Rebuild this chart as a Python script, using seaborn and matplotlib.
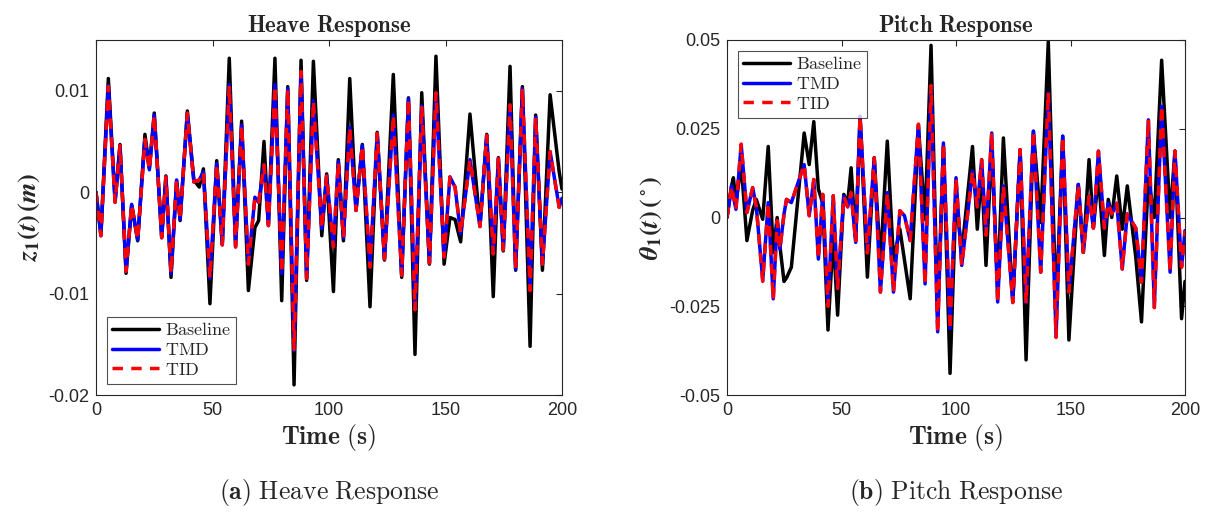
import matplotlib
matplotlib.use("Agg")
import matplotlib.pyplot as plt
import seaborn as sns
import pandas as pd

# ---------------- data ----------------
heave_time = [0, 2.1, 5.3, 8.2, 10.3, 12.9, 15.3, 17.9, 21.0, 22.9, 25.0, 28.2, 30.0, 32.2, 34.6,
              36.1, 39.2, 42.0, 44.3, 46.1, 48.9, 51.8, 54.2, 57.2, 59.9, 62.5, 65.4, 68.2, 69.8,
              72.1, 74.0, 76.8, 79.7, 82.3, 85.0, 88.0, 90.4, 93.3, 96.9, 99.0, 101.9, 104.0,
              106.2, 108.9, 111.6, 114.3, 117.6, 120.7, 123.8, 127.6, 131.2, 134.1, 136.9, 139.8,
              143.1, 145.9, 149.4, 151.9, 154.1, 156.5, 160.5, 164.8, 167.7, 170.5, 172.7, 174.8,
              177.7, 180.1, 183.0, 186.3, 188.7, 191.6, 194.9, 198.8, 200.0]
heave_baseline = [0, -0.0041, 0.0112, -0.0009, 0.0047, -0.0080, -0.0013, -0.0048, 0.0057, 0.0024,
                  0.0078, -0.0044, 0.0016, -0.0084, 0.0011, -0.0028, 0.0080, 0.0012, 0.0005, 0.0023,
                  -0.0110, 0.0031, -0.0051, 0.0132, -0.0051, 0.0070, -0.0097, -0.0035, -0.0028,
                  0.0050, -0.0031, 0.0132, -0.0107, 0.0104, -0.0190, 0.0130, -0.0087, 0.0129,
                  -0.0043, 0.0018, -0.0098, 0.0032, -0.0048, 0.0112, -0.0018, 0.0047, -0.0113,
                  0.0059, -0.0067, 0.0116, -0.0084, 0.0093, -0.0160, 0.0098, -0.0071, 0.0134,
                  -0.0071, -0.0025, -0.0027, -0.0049, 0.0077, -0.0033, 0.0057, -0.0103, 0.0034,
                  -0.0058, 0.0124, -0.0077, 0.0104, -0.0152, 0.0076, -0.0077, 0.0096, 0.0020, 0.0003]
heave_tmd = [0, -0.0043, 0.0105, -0.0010, 0.0046, -0.0078, -0.0012, -0.0047, 0.0052, 0.0022,
             0.0076, -0.0045, 0.0015, -0.0080, 0.0012, -0.0027, 0.0078, 0.0010, 0.0012, 0.0020,
             -0.0085, 0.0028, -0.0052, 0.0106, -0.0054, 0.0066, -0.0071, -0.0005, -0.0010,
             0.0027, -0.0033, 0.0106, -0.0080, 0.0102, -0.0156, 0.0119, -0.0085, 0.0090,
             -0.0036, 0.0016, -0.0054, 0.0030, -0.0045, 0.0064, -0.0018, 0.0046, -0.0074,
             0.0058, -0.0066, 0.0076, -0.0082, 0.0092, -0.0116, 0.0085, -0.0070, 0.0098,
             -0.0064, 0.0015, 0.0005, -0.0041, 0.0032, -0.0034, 0.0056, -0.0061, 0.0033,
             -0.0057, 0.0086, -0.0076, 0.0102, -0.0097, 0.0074, -0.0071, 0.0040, -0.0015, -0.0006]
heave_tid = [0, -0.0043, 0.0104, -0.0010, 0.0046, -0.0078, -0.0012, -0.0047, 0.0052, 0.0022,
             0.0076, -0.0045, 0.0015, -0.0080, 0.0012, -0.0027, 0.0078, 0.0010, 0.0012, 0.0020,
             -0.0085, 0.0028, -0.0052, 0.0105, -0.0054, 0.0066, -0.0071, -0.0005, -0.0010,
             0.0027, -0.0033, 0.0105, -0.0080, 0.0102, -0.0155, 0.0119, -0.0085, 0.0090,
             -0.0036, 0.0016, -0.0054, 0.0030, -0.0045, 0.0064, -0.0018, 0.0046, -0.0074,
             0.0058, -0.0066, 0.0076, -0.0082, 0.0092, -0.0116, 0.0085, -0.0070, 0.0098,
             -0.0064, 0.0015, 0.0005, -0.0041, 0.0032, -0.0034, 0.0056, -0.0061, 0.0033,
             -0.0057, 0.0086, -0.0076, 0.0102, -0.0097, 0.0074, -0.0071, 0.0040, -0.0015, -0.0006]

pitch_time = [0, 2.0, 2.8, 3.9, 6.2, 8.7, 11.2, 12.8, 15.6, 18.0, 20.2, 21.9, 23.1, 24.9, 26.0,
              28.1, 33.7, 35.9, 37.9, 39.9, 41.8, 44.1, 46.4, 48.3, 51.0, 52.7, 54.2, 56.2, 58.1,
              61.3, 64.3, 67.0, 70.0, 72.7, 75.5, 77.5, 80.0, 83.6, 86.5, 89.1, 92.0, 94.5, 97.4,
              100.0, 102.5, 107.2, 109.3, 111.2, 113.1, 115.6, 118.2, 120.7, 124.8, 128.0, 130.6,
              133.8, 137.0, 140.3, 143.7, 146.6, 149.3, 153.4, 155.6, 158.1, 160.0, 162.2, 164.8,
              166.5, 168.0, 170.2, 172.6, 174.8, 178.5, 181.0, 184.0, 186.6, 189.8, 193.5, 195.6,
              198.5, 200.0]
pitch_baseline = [0, 0.0090, 0.0112, 0.0040, 0.0150, -0.0065, 0.0020, 0.0051, -0.0005, 0.0200,
                  -0.0098, 0.0000, -0.0080, -0.0180, -0.0170, -0.0140, 0.0238, 0.0149, 0.0270,
                  0.0080, 0.0040, -0.0317, -0.0050, -0.0275, 0.0065, 0.0042, 0.0140, -0.0065,
                  0.0285, -0.0168, 0.0168, -0.0126, 0.0215, -0.0120, -0.0033, -0.0120, -0.0229,
                  0.0255, -0.0005, 0.0485, -0.0280, 0.0200, -0.0439, 0.0060, -0.0100, 0.0200,
                  -0.0033, 0.0130, -0.0135, 0.0200, -0.0200, 0.0224, -0.0238, 0.0191, -0.0401,
                  0.0243, -0.0014, 0.0495, -0.0255, 0.0229, -0.0345, 0.0093, -0.0098, 0.0163,
                  -0.0028, 0.0117, -0.0107, 0.0051, 0.0000, 0.0117, -0.0033, 0.0089, -0.0112,
                  -0.0294, 0.0110, 0.0000, 0.0443, 0.0000, 0.0187, -0.0285, -0.0180]
pitch_tmd = [0, 0.0089, 0.0060, 0.0023, 0.0205, 0.0014, 0.0084, 0.0030, -0.0177, 0.0042,
             -0.0229, -0.0009, -0.0089, 0.0010, 0.0051, 0.0042, 0.0149, 0.0005, 0.0107, -0.0117,
             0.0065, -0.0247, 0.0061, -0.0200, 0.0060, 0.0030, 0.0070, -0.0070, 0.0285, -0.0100,
             0.0168, -0.0210, 0.0070, -0.0210, 0.0019, 0.0005, -0.0065, 0.0261, -0.0187, 0.0369,
             -0.0322, 0.0210, -0.0313, 0.0112, -0.0135, 0.0130, 0.0030, 0.0163, -0.0050, 0.0238,
             -0.0238, 0.0089, -0.0238, 0.0191, -0.0240, 0.0243, -0.0154, 0.0350, -0.0336, 0.0229,
             -0.0210, 0.0093, -0.0098, 0.0060, -0.0030, 0.0187, -0.0030, 0.0040, 0.0010, 0.0040,
             -0.0145, 0.0010, -0.0030, -0.0182, 0.0275, -0.0252, 0.0313, -0.0154, 0.0187, -0.0140,
             -0.0037]
pitch_tid = [0, 0.0089, 0.0060, 0.0023, 0.0207, 0.0014, 0.0084, 0.0030, -0.0180, 0.0042,
             -0.0232, -0.0009, -0.0089, 0.0010, 0.0051, 0.0042, 0.0149, 0.0005, 0.0107, -0.0117,
             0.0065, -0.0250, 0.0061, -0.0200, 0.0060, 0.0030, 0.0070, -0.0070, 0.0287, -0.0100,
             0.0168, -0.0210, 0.0070, -0.0210, 0.0019, 0.0005, -0.0065, 0.0263, -0.0190, 0.0372,
             -0.0325, 0.0210, -0.0316, 0.0112, -0.0135, 0.0130, 0.0030, 0.0163, -0.0050, 0.0240,
             -0.0240, 0.0089, -0.0240, 0.0191, -0.0242, 0.0245, -0.0154, 0.0353, -0.0338, 0.0229,
             -0.0210, 0.0093, -0.0098, 0.0060, -0.0030, 0.0187, -0.0030, 0.0040, 0.0010, 0.0040,
             -0.0145, 0.0010, -0.0030, -0.0182, 0.0277, -0.0254, 0.0315, -0.0154, 0.0187, -0.0140,
             -0.0037]

series_names = ["Baseline", "TMD", "TID"]
heave_xticks = [0, 50, 100, 150, 200]
heave_yticks = [-0.02, -0.01, 0, 0.01]
heave_yticklabels = ["-0.02", "-0.01", "0", "0.01"]
pitch_yticks = [-0.05, -0.025, 0, 0.025, 0.05]
pitch_yticklabels = ["-0.05", "-0.025", "0", "0.025", "0.05"]

# ---------------- style ----------------
sns.set_style("white")
plt.rcParams["font.family"] = ["Liberation Sans", "DejaVu Sans"]
plt.rcParams["mathtext.fontset"] = "cm"
plt.rcParams["axes.unicode_minus"] = False

fig = plt.figure(figsize=(12.05, 5.12), dpi=100)
ax1 = fig.add_axes([96 / 1205, 1 - 395 / 512, 466 / 1205, 355 / 512])
ax2 = fig.add_axes([727 / 1205, 1 - 395 / 512, 458 / 1205, 355 / 512])

colors = {"Baseline": "black", "TMD": "#0000ff", "TID": "#ff0000"}
lw = 2.5


def draw(ax, t, base, tmd, tid):
    df = pd.DataFrame({"t": t, "Baseline": base, "TMD": tmd, "TID": tid})
    sns.lineplot(data=df, x="t", y="Baseline", color=colors["Baseline"], lw=lw, ax=ax,
                 label=r"$\mathrm{Baseline}$")
    sns.lineplot(data=df, x="t", y="TMD", color=colors["TMD"], lw=lw, ax=ax,
                 label=r"$\mathrm{TMD}$")
    sns.lineplot(data=df, x="t", y="TID", color=colors["TID"], lw=lw, ax=ax,
                 linestyle=(0, (3.0, 2.4)), label=r"$\mathrm{TID}$")


draw(ax1, heave_time, heave_baseline, heave_tmd, heave_tid)
draw(ax2, pitch_time, pitch_baseline, pitch_tmd, pitch_tid)

for ax in (ax1, ax2):
    ax.set_xlim(0, 200)
    ax.set_xticks(heave_xticks)
    ax.set_xticklabels([str(v) for v in heave_xticks])
    ax.tick_params(axis="both", direction="in", length=4, width=0.8, labelsize=13,
                   colors="#262626", top=True, right=True, pad=5)
    for s in ax.spines.values():
        s.set_color("#262626")
        s.set_linewidth(0.8)
    ax.set_xlabel(r"$\mathbf{Time\ (s)}$", fontsize=18.5, labelpad=2)

ax1.set_ylim(-0.02, 0.015)
ax1.set_yticks(heave_yticks)
ax1.set_yticklabels(heave_yticklabels)
ax2.set_ylim(-0.05, 0.05)
ax2.set_yticks(pitch_yticks)
ax2.set_yticklabels(pitch_yticklabels)

ax1.set_title(r"$\mathbf{Heave\ Response}$", fontsize=16.5, pad=6)
ax2.set_title(r"$\mathbf{Pitch\ Response}$", fontsize=16.5, pad=6)

ax1.set_ylabel(r"$\mathbfit{z}_\mathbf{1}\mathbf{(}\mathbfit{t}\mathbf{)\,(}\mathbfit{m}\mathbf{)}$",
               fontsize=19, math_fontfamily="stix", labelpad=4)
ax2.set_ylabel(r"$\mathbfit{\theta}_\mathbf{1}\mathbf{(}\mathbfit{t}\mathbf{)\,(}^\circ\mathbf{)}$",
               fontsize=19, math_fontfamily="stix", labelpad=4)

leg_kw = dict(fontsize=13, frameon=True, fancybox=False, edgecolor="#262626",
              handlelength=2.6, handletextpad=0.3, borderpad=0.3, labelspacing=0.15,
              borderaxespad=0.6)
l1 = ax1.legend(loc="lower left", **leg_kw)
l2 = ax2.legend(loc="upper left", **leg_kw)
for lg in (l1, l2):
    lg.get_frame().set_linewidth(0.8)

fig.text(329 / 1205, 1 - 493 / 512, r"$\mathbf{(a)}\ \mathrm{Heave\ Response}$",
         ha="center", va="center", fontsize=18.5)
fig.text(956 / 1205, 1 - 493 / 512, r"$\mathbf{(b)}\ \mathrm{Pitch\ Response}$",
         ha="center", va="center", fontsize=18.5)

fig.savefig("out.png", dpi=100)
